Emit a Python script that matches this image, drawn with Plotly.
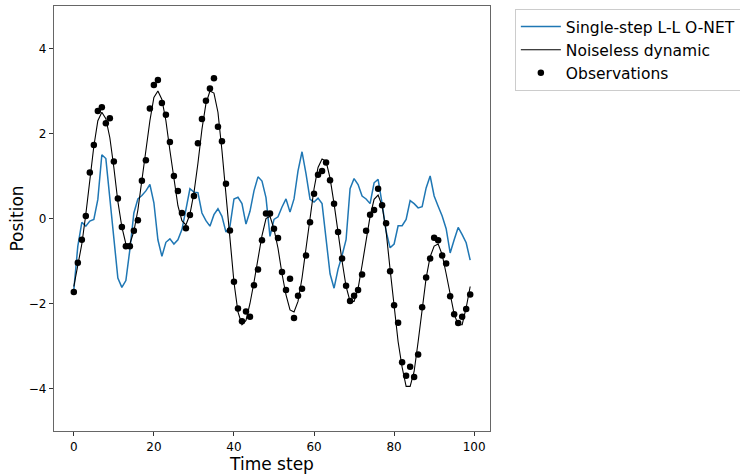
import plotly.graph_objects as go

time_steps = list(range(100))

observations = [
    -1.73, -1.04, -0.50, 0.06, 1.08, 1.73, 2.53, 2.62, 2.24, 2.36,
    1.34, 0.47, -0.20, -0.65, -0.65, -0.29, -0.04, 0.89, 1.37, 2.59,
    3.14, 3.26, 2.72, 2.44, 1.80, 1.00, 0.65, 0.13, -0.23, 0.08,
    0.53, 1.77, 2.34, 2.77, 3.06, 3.30, 2.16, 1.82, 0.82, -0.28,
    -1.49, -2.12, -2.42, -2.19, -2.31, -1.57, -1.20, -0.51, 0.12, 0.12,
    -0.24, -0.46, -1.26, -1.68, -1.42, -2.34, -1.82, -1.65, -0.87, -0.09,
    0.58, 1.03, 1.12, 1.32, 0.90, 0.35, -0.32, -0.94, -1.58, -1.94,
    -1.82, -1.68, -1.32, -0.29, 0.09, 0.20, 0.70, 0.31, -0.11, -1.24,
    -2.04, -2.45, -3.38, -3.70, -3.49, -3.73, -3.20, -2.09, -1.39, -0.94,
    -0.45, -0.51, -0.87, -1.06, -1.83, -2.25, -2.46, -2.31, -2.13, -1.79,
]

noiseless = [
    -1.6, -1.1, -0.6, 0.1, 0.9, 1.7, 2.3, 2.5, 2.35, 1.9,
    1.2, 0.4, -0.2, -0.6, -0.6, -0.3, 0.2, 0.9, 1.6, 2.3,
    2.85, 3.0, 2.8, 2.3, 1.6, 0.9, 0.3, -0.05, -0.15, 0.1,
    0.6, 1.3, 2.1, 2.7, 3.0, 2.95, 2.5, 1.6, 0.6, -0.5,
    -1.5, -2.2, -2.5, -2.4, -2.0, -1.5, -0.9, -0.4, 0.0, 0.05,
    -0.25, -0.7, -1.3, -1.8, -2.15, -2.2, -1.95, -1.4, -0.7, 0.05,
    0.7, 1.2, 1.4, 1.35, 0.95, 0.35, -0.35, -1.0, -1.6, -1.95,
    -1.95, -1.65, -1.1, -0.5, 0.05, 0.45, 0.55, 0.3, -0.3, -1.2,
    -2.1, -2.9, -3.5, -3.95, -3.95, -3.6, -2.9, -2.1, -1.4, -0.9,
    -0.65, -0.6, -0.85, -1.3, -1.8, -2.25, -2.5, -2.5, -2.1, -1.6,
]

onet_single_step = [
    -1.68, -0.65, -0.09, -0.18, -0.06, -0.02, 0.45, 1.50, 1.41, 0.45,
    -0.50, -1.40, -1.62, -1.46, -0.73, 0.13, 0.46, 0.54, 0.65, 0.80,
    0.37, -0.50, -0.89, -0.56, -0.48, -0.60, -0.50, -0.26, 0.21, 0.70,
    0.62, 0.61, 0.13, -0.05, -0.18, 0.09, 0.23, 0.05, -0.32, -0.18,
    0.46, 0.50, 0.35, -0.13, 0.17, 0.65, 0.98, 0.88, 0.49, -0.42,
    -0.02, 0.04, 0.27, 0.46, 0.15, 0.46, 1.12, 1.57, 1.05, 0.45,
    0.39, 0.48, 0.35, -0.42, -1.30, -1.64, -1.19, -0.87, -0.50, 0.70,
    0.94, 0.80, 0.53, 0.46, 0.35, 0.84, 0.92, 0.35, -0.30, -0.69,
    -0.60, -0.17, -0.17, -0.02, 0.42, 0.35, 0.25, 0.28, 0.72, 1.00,
    0.53, 0.29, 0.06, -0.24, -0.81, -0.50, -0.21, -0.38, -0.57, -0.98,
]

x_ticks = [0, 20, 40, 60, 80, 100]
y_ticks = [-4, -2, 0, 2, 4]
y_tick_labels = ["\u22124", "\u22122", "0", "2", "4"]

FONT = "DejaVu Sans"

fig = go.Figure()
fig.add_trace(go.Scatter(
    x=time_steps, y=onet_single_step, mode="lines",
    name="Single-step L-L O-NET",
    line=dict(color="#1f77b4", width=1.5),
))
fig.add_trace(go.Scatter(
    x=time_steps, y=noiseless, mode="lines",
    name="Noiseless dynamic",
    line=dict(color="black", width=1.1),
))
fig.add_trace(go.Scatter(
    x=time_steps, y=observations, mode="markers",
    name="Observations",
    marker=dict(color="black", size=6.5),
))

fig.update_layout(
    width=740, height=474,
    margin=dict(l=54, r=250, t=6, b=43, autoexpand=False),
    paper_bgcolor="white", plot_bgcolor="white",
    font=dict(family=FONT, color="black", size=12),
    showlegend=True,
    legend=dict(
        x=1.057, y=0.993, xanchor="left", yanchor="top",
        bgcolor="white", bordercolor="#cccccc", borderwidth=1,
        font=dict(family=FONT, size=15.5, color="black"),
        itemwidth=40, tracegroupgap=0,
    ),
)
fig.update_xaxes(
    range=[-4.95, 103.95], tickvals=x_ticks,
    showgrid=False, zeroline=False, automargin=False,
    showline=True, mirror=True, linecolor="#666666", linewidth=1.3,
    ticks="outside", ticklen=4, tickcolor="#333333", tickwidth=1,
    tickfont=dict(family=FONT, size=12),
    title=dict(text="Time step", font=dict(family=FONT, size=17), standoff=0),
)
fig.update_yaxes(
    range=[-5, 5], tickvals=y_ticks, ticktext=y_tick_labels,
    showgrid=False, zeroline=False, automargin=False,
    showline=True, mirror=True, linecolor="#666666", linewidth=1.3,
    ticks="outside", ticklen=4, tickcolor="#333333", tickwidth=1,
    tickfont=dict(family=FONT, size=12),
    title=dict(text="Position", font=dict(family=FONT, size=17), standoff=0),
)

fig.write_html(
    "out.html",
    config={"displayModeBar": False},
    post_script="document.body.style.margin='0';",
)
